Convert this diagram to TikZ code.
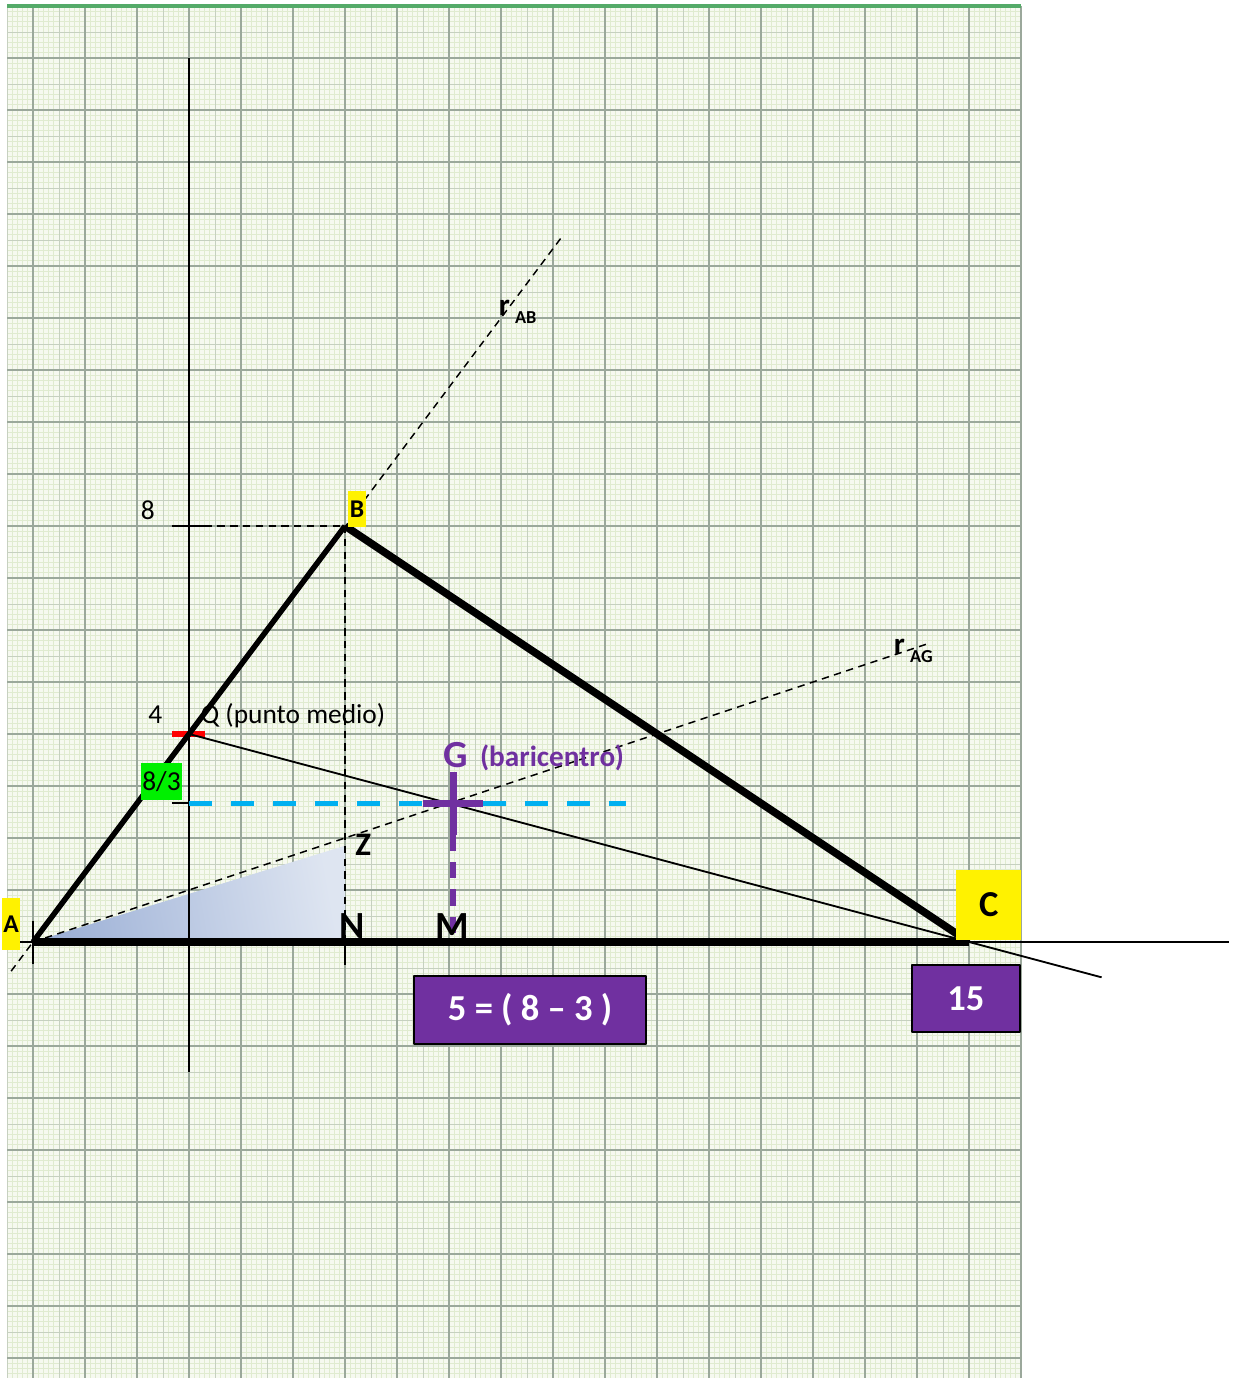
\documentclass[tikz,border=0pt]{standalone}
\usepackage{fontspec}
\setmainfont{Carlito}
\usetikzlibrary{calc}
\definecolor{paperbg}{RGB}{246,249,240}
\definecolor{gridfine}{RGB}{224,235,208}
\definecolor{gridmid}{RGB}{198,208,192}
\definecolor{gridmaj}{RGB}{155,168,155}
\definecolor{papergreen}{RGB}{84,170,104}
\definecolor{purp}{RGB}{112,48,160}
\definecolor{skyblue}{RGB}{0,176,240}
\definecolor{brightgreen}{RGB}{0,240,0}
\definecolor{shadeL}{RGB}{156,176,214}
\definecolor{shadeR}{RGB}{222,229,241}

\begin{document}
\begin{tikzpicture}[line join=round,
    side/.style={line width=4.2pt},
    axisline/.style={line width=1.1pt},
    auxdash/.style={line width=0.8pt, dash pattern=on 4pt off 3pt},
    ybox/.style={fill=yellow, inner sep=0pt, font=\bfseries\fontsize{14}{16}\selectfont},
    pbox/.style={fill=purp, draw=black, line width=1pt, inner sep=0pt, text=white,
        font=\bfseries\fontsize{20}{24}\selectfont},
    plain/.style={font=\fontsize{15}{18}\selectfont, inner sep=0pt},
    vlabel/.style={font=\bfseries\fontsize{21}{24}\selectfont, inner sep=0pt}]

\useasboundingbox (-3.635,-8.385) rectangle (20.06,18.115);
\fill[white] (-3.635,-8.385) rectangle (20.06,18.115);

% graph paper
\fill[paperbg] (-3.5,-8.385) rectangle (16,18);
\draw[gridfine, line width=0.45pt, step=0.1] (-3.5,-8.385) grid (16,18);
\draw[gridmid, line width=0.5pt, step=0.5] (-3.5,-8.385) grid (16,18);
\draw[gridmaj, line width=0.7pt, step=1] (-3.5,-8.385) grid (16,18);
\draw[papergreen, line width=2.5pt] (-3.5,18) -- (16,18);

% points
\coordinate (A) at (-3,0);
\coordinate (B) at (3,8);
\coordinate (C) at (15,0);
\coordinate (Q) at (0,4);
\coordinate (G) at (5,8/3);
\coordinate (Z) at (3,2);
\coordinate (N) at (3,0);
\coordinate (M) at (5,0);
\coordinate (Y8) at (0,8);
\coordinate (Y83) at (0,8/3);

\shade[left color=shadeL, right color=shadeR, shading angle=100] (A) -- ([yshift=-0.15cm]Z) -- (N) -- cycle;

% axes
\draw[axisline] (0,-2.5) -- (0,17);
\draw[axisline] (-3.5,0) -- (20,0);
\draw[axisline] ([yshift=0.4cm]A) -- ([yshift=-0.43cm]A);
\draw[axisline] (N) -- ([yshift=-0.45cm]N);
\draw[axisline] ([xshift=-0.33cm]Y8) -- ([xshift=0.3cm]Y8);
\draw[axisline] ([xshift=-0.33cm]Y83) -- (Y83);
\draw[red, line width=2.8pt] ([xshift=-0.33cm]Q) -- ([xshift=0.3cm]Q);

% construction lines
\draw[auxdash] ([xshift=0.3cm]Y8) -- (B);
\draw[auxdash] (B) -- (N);
\draw[auxdash] ($(A)!-0.07!(B)$) -- ($(A)!1.7!(B)$);
\draw[auxdash] (A) -- ($(A)!2.15!(G)$);
\draw[line width=1pt] (Q) -- ($(Q)!1.17!(C)$);
\draw[skyblue, line width=2.4pt, dash pattern=on 12.5pt off 10.5pt] (Y83) -- (8.4,8/3);

% triangle
\draw[line width=3pt] (A) -- (B);
\draw[side] (B) -- (C);
\draw[side] (A) -- (C);

% centroid
\draw[purp, line width=4pt] ([xshift=-0.5cm]G) -- ([xshift=0.65cm]G);
\draw[purp, line width=4pt] ([xshift=0.08cm,yshift=0.6cm]G) -- ([xshift=0.08cm,yshift=-0.6cm]G);
\draw[purp, line width=3pt, dash pattern=on 9pt off 6pt] ([xshift=0.08cm,yshift=-0.6cm]G) -- ([xshift=0.08cm]M);

% labels
\node[ybox, minimum width=0.35cm, minimum height=1cm] (lblA) at (-3.42,0.35) {A};
\node[ybox, minimum width=0.35cm, minimum height=0.7cm] (lblB) at (3.23,8.33) {B};
\node[ybox, minimum width=1.25cm, minimum height=1.35cm, font=\bfseries\fontsize{20}{22}\selectfont] (lblC) at (15.38,0.71) {C};
\node[plain] (lbl8) at (-0.79,8.31) {8};
\node[plain] (lbl4) at (-0.65,4.38) {4};
\node[plain, fill=brightgreen, minimum width=0.79cm, minimum height=0.71cm] (lbl83) at (-0.53,3.09) {8/3};
\node[plain, anchor=base west] (lblQ) at (0.22,4.21) {Q (punto medio)};
\node[purp, font=\bfseries\fontsize{21}{24}\selectfont, inner sep=0pt] (lblG) at (5.12,3.6) {G};
\node[purp, font=\bfseries\fontsize{16}{19}\selectfont, inner sep=0pt] (lblbar) at (6.98,3.54) {(baricentro)};
\node[font=\bfseries\fontsize{18}{20}\selectfont, inner sep=0pt] (lblZ) at (3.35,1.87) {Z};
\node[vlabel] (lblN) at (3.13,0.31) {N};
\node[vlabel] (lblM) at (5.06,0.31) {M};
\node[anchor=base west, inner sep=0pt, font=\bfseries\fontsize{17}{20}\selectfont] (lblrAB) at (5.95,12.04)
    {r\,\raisebox{-0.5ex}{\fontsize{10}{11}\selectfont AB}};
\node[anchor=base west, inner sep=0pt, font=\bfseries\fontsize{17}{20}\selectfont] (lblrAG) at (13.55,5.52)
    {r\,\raisebox{-0.5ex}{\fontsize{10}{11}\selectfont AG}};
\node[pbox, minimum width=4.46cm, minimum height=1.31cm] (boxdiff) at (6.56,-1.31) {5 = ( 8 -- 3 )};
\node[pbox, minimum width=2.08cm, minimum height=1.29cm] (box15) at (14.94,-1.09) {15};

\end{tikzpicture}
\end{document}
